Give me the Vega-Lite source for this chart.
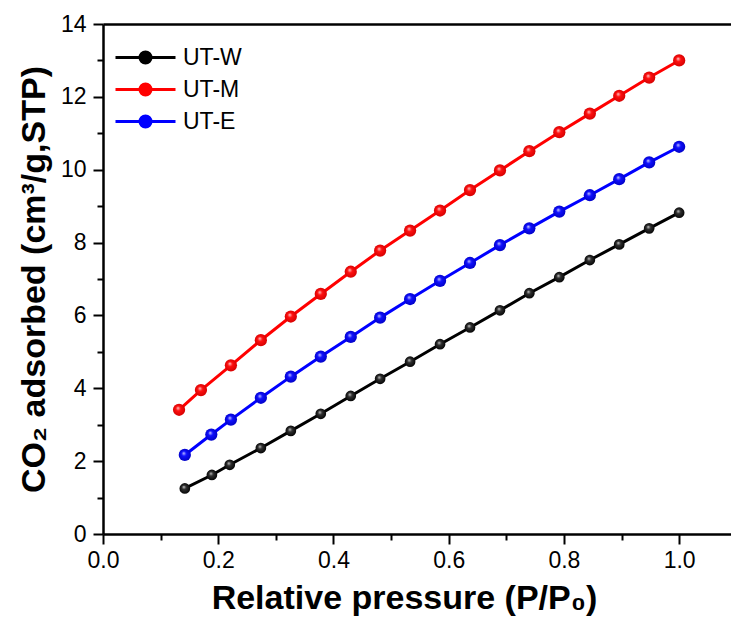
{
  "$schema": "https://vega.github.io/schema/vega-lite/v6.json",
  "width": 628,
  "height": 510,
  "autosize": {"type": "none"},
  "padding": {"left": 103, "top": 24, "right": 0, "bottom": 85},
  "background": "white",
  "config": {
    "view": {"stroke": null},
    "font": "Liberation Sans",
    "axis": {
      "domainColor": "black", "tickColor": "black", "labelColor": "black", "titleColor": "black",
      "domainWidth": 2, "tickWidth": 2, "grid": false, "labelFontSize": 23, "labelFlush": false,
      "labelFont": "Liberation Sans", "titleFont": "Liberation Sans"
    }
  },
  "datasets": {
    "d": [
      {"P": 0.142, "V": 1.25, "series": "UT-W"}, {"P": 0.189, "V": 1.62, "series": "UT-W"},
      {"P": 0.220, "V": 1.90, "series": "UT-W"}, {"P": 0.274, "V": 2.36, "series": "UT-W"},
      {"P": 0.326, "V": 2.83, "series": "UT-W"}, {"P": 0.378, "V": 3.30, "series": "UT-W"},
      {"P": 0.430, "V": 3.79, "series": "UT-W"}, {"P": 0.481, "V": 4.26, "series": "UT-W"},
      {"P": 0.533, "V": 4.73, "series": "UT-W"}, {"P": 0.585, "V": 5.21, "series": "UT-W"},
      {"P": 0.637, "V": 5.67, "series": "UT-W"}, {"P": 0.689, "V": 6.14, "series": "UT-W"},
      {"P": 0.740, "V": 6.61, "series": "UT-W"}, {"P": 0.792, "V": 7.05, "series": "UT-W"},
      {"P": 0.845, "V": 7.52, "series": "UT-W"}, {"P": 0.896, "V": 7.95, "series": "UT-W"},
      {"P": 0.948, "V": 8.39, "series": "UT-W"}, {"P": 1.000, "V": 8.82, "series": "UT-W"},
      {"P": 0.132, "V": 3.41, "series": "UT-M"}, {"P": 0.170, "V": 3.95, "series": "UT-M"},
      {"P": 0.222, "V": 4.63, "series": "UT-M"}, {"P": 0.274, "V": 5.32, "series": "UT-M"},
      {"P": 0.326, "V": 5.97, "series": "UT-M"}, {"P": 0.378, "V": 6.59, "series": "UT-M"},
      {"P": 0.430, "V": 7.20, "series": "UT-M"}, {"P": 0.481, "V": 7.78, "series": "UT-M"},
      {"P": 0.533, "V": 8.33, "series": "UT-M"}, {"P": 0.585, "V": 8.88, "series": "UT-M"},
      {"P": 0.637, "V": 9.44, "series": "UT-M"}, {"P": 0.689, "V": 9.98, "series": "UT-M"},
      {"P": 0.740, "V": 10.51, "series": "UT-M"}, {"P": 0.792, "V": 11.03, "series": "UT-M"},
      {"P": 0.845, "V": 11.54, "series": "UT-M"}, {"P": 0.896, "V": 12.03, "series": "UT-M"},
      {"P": 0.948, "V": 12.53, "series": "UT-M"}, {"P": 1.000, "V": 13.00, "series": "UT-M"},
      {"P": 0.142, "V": 2.17, "series": "UT-E"}, {"P": 0.188, "V": 2.73, "series": "UT-E"},
      {"P": 0.222, "V": 3.14, "series": "UT-E"}, {"P": 0.274, "V": 3.74, "series": "UT-E"},
      {"P": 0.326, "V": 4.32, "series": "UT-E"}, {"P": 0.378, "V": 4.87, "series": "UT-E"},
      {"P": 0.430, "V": 5.41, "series": "UT-E"}, {"P": 0.481, "V": 5.94, "series": "UT-E"},
      {"P": 0.533, "V": 6.45, "series": "UT-E"}, {"P": 0.585, "V": 6.95, "series": "UT-E"},
      {"P": 0.637, "V": 7.44, "series": "UT-E"}, {"P": 0.689, "V": 7.93, "series": "UT-E"},
      {"P": 0.740, "V": 8.39, "series": "UT-E"}, {"P": 0.792, "V": 8.85, "series": "UT-E"},
      {"P": 0.845, "V": 9.30, "series": "UT-E"}, {"P": 0.896, "V": 9.74, "series": "UT-E"},
      {"P": 0.948, "V": 10.20, "series": "UT-E"}, {"P": 1.000, "V": 10.63, "series": "UT-E"}
    ]
  },
  "data": {"name": "d"},
  "resolve": {"axis": {"x": "independent", "y": "independent"}},
  "layer": [
    {
      "mark": {"type": "line", "strokeWidth": 3},
      "encoding": {
        "x": {
          "field": "P", "type": "quantitative",
          "scale": {"domain": [0, 1.09], "nice": false, "zero": false},
          "axis": {
            "orient": "bottom", "values": [0, 0.2, 0.4, 0.6, 0.8, 1.0], "format": ".1f",
            "tickSize": 10, "labelPadding": 5, "labelFontSize": 23, "labelFlush": false,
            "domainColor": "black", "tickColor": "black", "labelColor": "black", "domainWidth": 2.5, "tickWidth": 2,
            "title": "Relative pressure (P/P₀)", "titleFontSize": 34, "titleFontWeight": "bold",
            "titleColor": "black", "titlePadding": 9, "titleX": 301
          }
        },
        "y": {
          "field": "V", "type": "quantitative",
          "scale": {"domain": [0, 14], "nice": false},
          "axis": {
            "orient": "left", "values": [0, 2, 4, 6, 8, 10, 12, 14],
            "tickSize": 10, "labelPadding": 7, "labelFontSize": 23, "labelFlush": false,
            "domainColor": "black", "tickColor": "black", "labelColor": "black", "domainWidth": 2.5, "tickWidth": 2,
            "title": "CO₂ adsorbed (cm³/g,STP)", "titleFontSize": 34, "titleFontWeight": "bold",
            "titleColor": "black", "titlePadding": 9
          }
        },
        "color": {
          "field": "series", "type": "nominal",
          "scale": {"domain": ["UT-W", "UT-M", "UT-E"], "range": ["#000000", "#ff0000", "#0000ff"]},
          "legend": {
            "orient": "none", "legendX": 31, "legendY": 22, "title": null,
            "symbolType": "M-3,0L3,0M-0.55,0A0.55,0.55,0,1,1,0.55,0A0.55,0.55,0,1,1,-0.55,0Z",
            "symbolSize": 400, "symbolStrokeWidth": 3,
            "labelFontSize": 23, "labelFont": "Liberation Sans", "labelColor": "black",
            "labelOffset": 26, "rowPadding": 8,
            "encode": {
              "symbols": {
                "update": {
                  "fill": {"scale": "color", "field": "value"},
                  "stroke": {"scale": "color", "field": "value"}
                }
              }
            }
          }
        }
      }
    },
    {
      "transform": [{"filter": "datum.series === 'UT-W'"}],
      "mark": {
        "type": "point", "filled": true, "size": 115, "opacity": 1,
        "color": {"gradient": "radial", "x1": 0.4, "y1": 0.35, "r1": 0, "x2": 0.5, "y2": 0.5, "r2": 0.55,
          "stops": [{"offset": 0, "color": "#d0d0d0"}, {"offset": 0.35, "color": "#303030"}, {"offset": 1, "color": "#000000"}]}
      },
      "encoding": {
        "x": {"field": "P", "type": "quantitative", "axis": null},
        "y": {"field": "V", "type": "quantitative", "axis": null}
      }
    },
    {
      "transform": [{"filter": "datum.series === 'UT-M'"}],
      "mark": {
        "type": "point", "filled": true, "size": 150, "opacity": 1,
        "color": {"gradient": "radial", "x1": 0.4, "y1": 0.35, "r1": 0, "x2": 0.5, "y2": 0.5, "r2": 0.55,
          "stops": [{"offset": 0, "color": "#ffd0d0"}, {"offset": 0.35, "color": "#ff1010"}, {"offset": 1, "color": "#d00000"}]}
      },
      "encoding": {
        "x": {"field": "P", "type": "quantitative", "axis": null},
        "y": {"field": "V", "type": "quantitative", "axis": null}
      }
    },
    {
      "transform": [{"filter": "datum.series === 'UT-E'"}],
      "mark": {
        "type": "point", "filled": true, "size": 150, "opacity": 1,
        "color": {"gradient": "radial", "x1": 0.4, "y1": 0.35, "r1": 0, "x2": 0.5, "y2": 0.5, "r2": 0.55,
          "stops": [{"offset": 0, "color": "#d0d0ff"}, {"offset": 0.35, "color": "#1010ff"}, {"offset": 1, "color": "#0000c0"}]}
      },
      "encoding": {
        "x": {"field": "P", "type": "quantitative", "axis": null},
        "y": {"field": "V", "type": "quantitative", "axis": null}
      }
    },
    {
      "mark": {"type": "point", "opacity": 0},
      "encoding": {
        "x": {"field": "P", "type": "quantitative",
          "axis": {"orient": "bottom", "values": [0.1, 0.3, 0.5, 0.7, 0.9], "labels": false, "tickSize": 6, "tickWidth": 2, "tickColor": "black", "domain": false, "title": null}},
        "y": {"field": "V", "type": "quantitative",
          "axis": {"orient": "left", "values": [1, 3, 5, 7, 9, 11, 13], "labels": false, "tickSize": 6, "tickWidth": 2, "tickColor": "black", "domain": false, "title": null}}
      }
    },
    {
      "mark": {"type": "point", "opacity": 0},
      "encoding": {
        "x": {"field": "P", "type": "quantitative",
          "axis": {"orient": "top", "ticks": false, "labels": false, "domain": true, "domainColor": "black", "domainWidth": 2.5, "title": null}},
        "y": {"field": "V", "type": "quantitative", "axis": null}
      }
    }
  ]
}
